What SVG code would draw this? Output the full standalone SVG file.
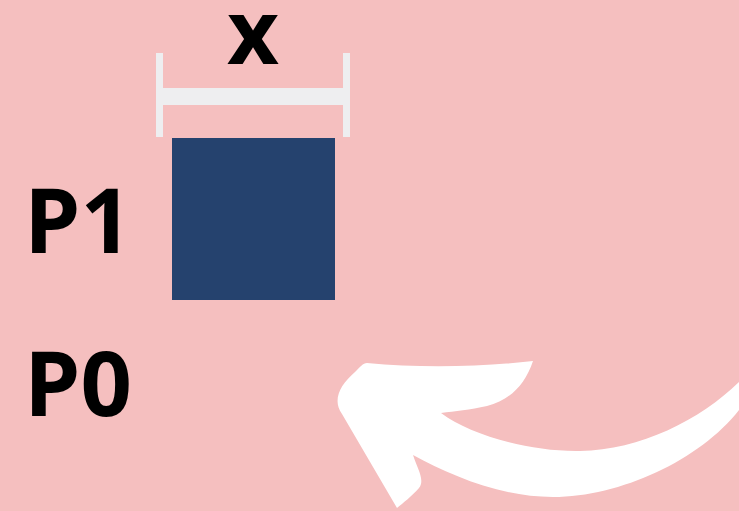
<svg xmlns="http://www.w3.org/2000/svg" width="739" height="511" viewBox="0 0 739 511">
<style>
.lbl{font-family:"Open Sans","Liberation Sans",sans-serif;font-weight:700;fill:#000}
.bar{fill:#eeeef0}
</style>
<rect width="739" height="511" fill="#f5bfbf"/>
<g id="dimension">
<rect class="bar" x="156" y="53" width="7" height="84"/>
<rect class="bar" x="343" y="53" width="7" height="84"/>
<rect class="bar" x="163" y="88" width="180" height="17"/>
<text class="lbl" x="253" y="64" font-size="90" text-anchor="middle">x</text>
</g>
<g id="square">
<rect x="172" y="138" width="163" height="162" fill="#25426e"/>
</g>
<g id="p1"><text class="lbl" x="24" y="253" font-size="90">P1</text></g>
<g id="p0"><text class="lbl" x="24" y="416" font-size="90">P0</text></g>
<g id="arrow">
<path fill="#fff" d="M 367 363 C 420 368, 480 367, 533 361 C 525 385, 510 400, 487 406 C 470 410, 455 411, 441 413 C 470 435, 530 452, 580 451 C 640 450, 700 420, 739 382 L 739 410 C 700 460, 620 497, 553 497 C 500 497, 450 475, 413 455 C 418 470, 425 480, 419 488 C 412 496, 403 503, 397 508 L 342 414 C 332 400, 340 385, 355 372 C 360 367, 363 363, 367 363 Z"/>
</g>
</svg>
